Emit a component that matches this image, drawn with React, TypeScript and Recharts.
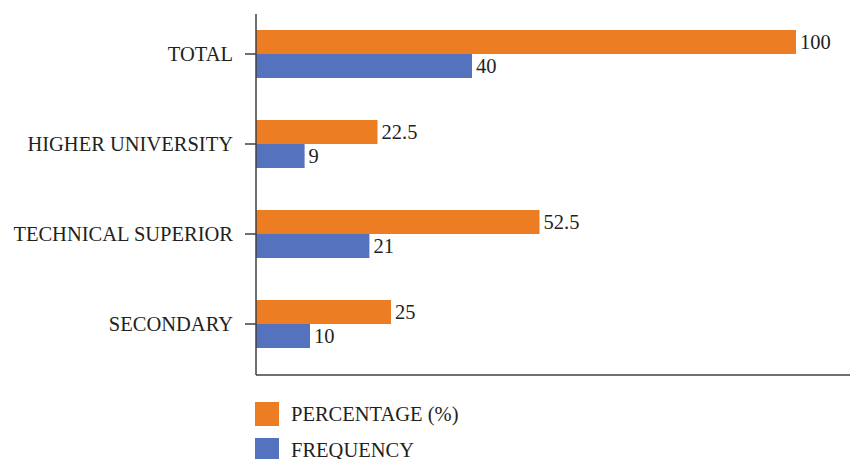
import React from 'react';
import { BarChart, Bar, XAxis, YAxis, Legend, LabelList } from 'recharts';

const categories = ['TOTAL', 'HIGHER UNIVERSITY', 'TECHNICAL SUPERIOR', 'SECONDARY'];
const percentage = [100, 22.5, 52.5, 25];
const frequency = [40, 9, 21, 10];
const seriesNames = ['PERCENTAGE (%)', 'FREQUENCY'];

const data = categories.map((name, i) => ({ name, percentage: percentage[i], frequency: frequency[i] }));

const FONT = '"Liberation Serif", "Times New Roman", serif';
const FS = 20.5;
const TEXT = '#231F20';
const AXIS = '#404040';
const ORANGE = '#ED7D23';
const BLUE = '#5572BE';

const renderLegend = (props: any) => {
  const payload = [...(props.payload || [])].sort(
    (a: any, b: any) => seriesNames.indexOf(a.value) - seriesNames.indexOf(b.value)
  );
  return (
    <div style={{ height: 57, position: 'relative', overflow: 'visible' }}>
      {payload.map((entry: any, i: number) => (
        <div
          key={entry.value}
          style={{
            position: 'absolute',
            left: 0,
            top: i * 36,
            height: 24,
            display: 'flex',
            alignItems: 'center',
            fontFamily: FONT,
            fontSize: FS,
            color: TEXT,
            whiteSpace: 'nowrap',
          }}
        >
          <span style={{ display: 'inline-block', width: 24, height: 24, background: entry.color, marginRight: 12 }} />
          <span>{entry.value}</span>
        </div>
      ))}
    </div>
  );
};

export default function App() {
  return (
    <div style={{ position: 'absolute', left: 0, top: 0, width: 850, height: 459, background: '#fff' }}>
      <BarChart
        width={850}
        height={459}
        data={data}
        layout="vertical"
        margin={{ top: 14, right: 0, bottom: 0, left: 0 }}
        barGap={0}
        barSize={24}
      >
        <XAxis
          type="number"
          domain={[0, 110]}
          tick={false}
          tickLine={false}
          axisLine={{ stroke: AXIS, strokeWidth: 1.5 }}
          height={27}
        />
        <YAxis
          type="category"
          dataKey="name"
          width={256}
          padding={{ top: -5, bottom: 6 }}
          axisLine={{ stroke: AXIS, strokeWidth: 1.5 }}
          tickLine={{ stroke: AXIS, strokeWidth: 1.5 }}
          tickSize={11}
          tickMargin={12}
          tick={{ fontFamily: FONT, fontSize: FS, fill: TEXT }}
          interval={0}
        />
        <Legend
          verticalAlign="bottom"
          align="left"
          layout="horizontal"
          content={renderLegend}
          wrapperStyle={{ left: 255, width: 300 }}
        />
        <Bar dataKey="percentage" name={seriesNames[0]} fill={ORANGE} isAnimationActive={false}>
          <LabelList dataKey="percentage" position="right" offset={4} style={{ fontFamily: FONT, fontSize: FS, fill: TEXT }} />
        </Bar>
        <Bar dataKey="frequency" name={seriesNames[1]} fill={BLUE} isAnimationActive={false}>
          <LabelList dataKey="frequency" position="right" offset={4} style={{ fontFamily: FONT, fontSize: FS, fill: TEXT }} />
        </Bar>
      </BarChart>
    </div>
  );
}
